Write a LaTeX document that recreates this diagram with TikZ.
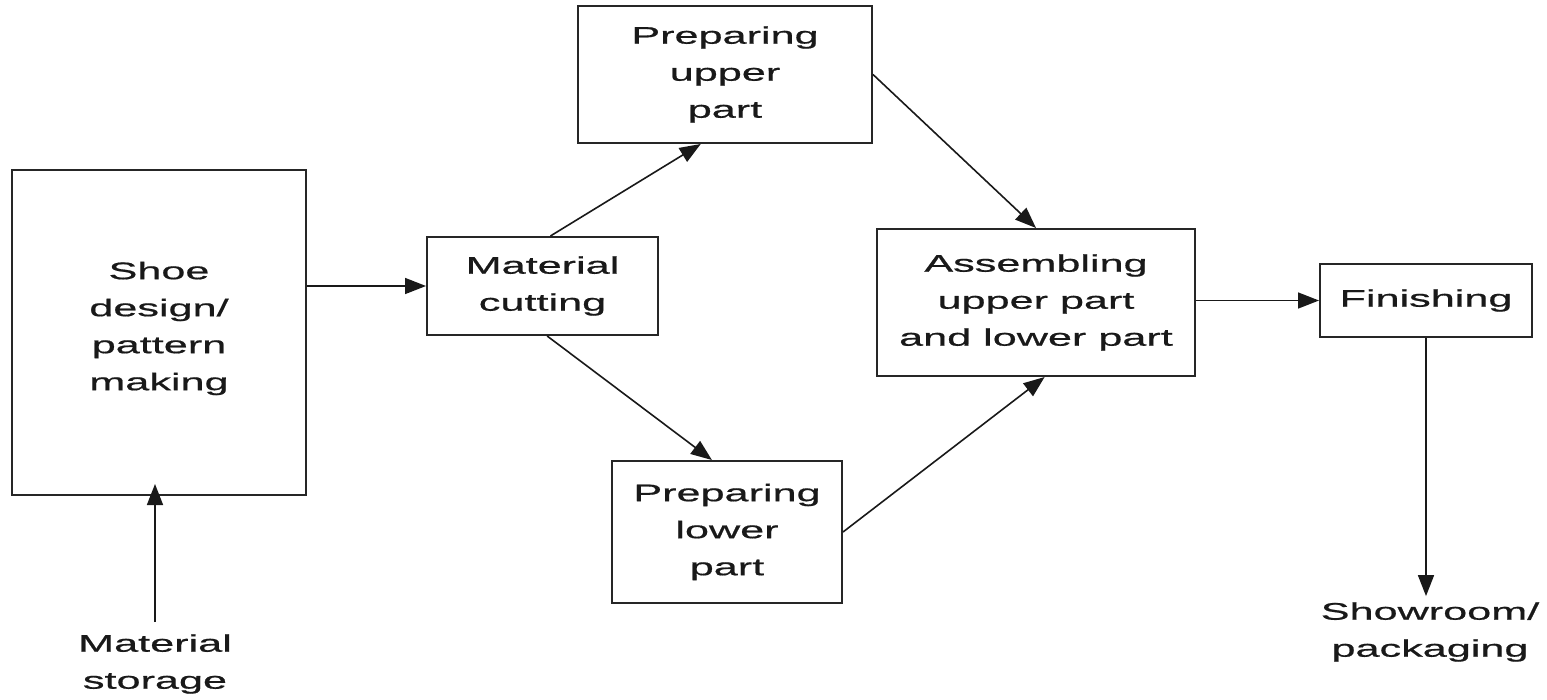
\documentclass[tikz,border=0pt]{standalone}
\usepackage{fontspec}
\setmainfont{Liberation Sans}[FakeStretch=1.8,FakeBold=0.7]
\usetikzlibrary{arrows.meta,calc}
\begin{document}
\begin{tikzpicture}[x=1pt,y=-1pt,
  box/.style={draw=black!85,line width=2pt,rectangle,inner sep=0pt,align=center,
    font=\fontsize{24}{37}\selectfont,text=black!90},
  lbl/.style={inner sep=0pt,align=center,font=\fontsize{24}{37}\selectfont,text=black!90},
  conn/.style={draw=black!90,line width=1.6pt,-{Triangle[length=21pt,width=16pt]}}]
\useasboundingbox (0,0) rectangle (1547,699);
\node[box,minimum width=294pt,minimum height=325pt] (shoe) at (159,332.5) {Shoe\\design/\\pattern\\making\\[-24pt]};
\node[box,minimum width=231pt,minimum height=98pt] (cut) at (542.5,286) {Material\\cutting};
\node[box,minimum width=294pt,minimum height=137pt] (up) at (725,74.5) {Preparing\\upper\\part};
\node[box,minimum width=230pt,minimum height=142pt] (low) at (727,532) {Preparing\\lower\\part};
\node[box,minimum width=318pt,minimum height=147pt] (asm) at (1036,302.5) {Assembling\\upper part\\and lower part};
\node[box,minimum width=212pt,minimum height=73pt] (fin) at (1426,300.5) {Finishing};
\node[lbl] (sto) at (155,664) {Material\\storage};
\node[lbl] (show) at (1430,632) {Showroom/\\packaging};
\draw[conn] (cut.west -| shoe.east) -- (cut.west);
\draw[conn] ([yshift=12pt]sto.north) -- ([yshift=12pt]sto.north |- shoe.south);
\draw[conn] ($(cut.north west)!0.534!(cut.north east)$) -- ($(up.south west)!0.418!(up.south east)$);
\draw[conn] ($(cut.south west)!0.52!(cut.south east)$) -- ($(low.north west)!0.435!(low.north east)$);
\draw[conn] (up.east) -- (asm.north);
\draw[conn] (low.east) -- ($(asm.south west)!0.527!(asm.south east)$);
\draw[conn] (fin.west -| asm.east) -- (fin.west);
\draw[conn] (fin.south) -- ([yshift=6pt]show.north -| fin.south);
\end{tikzpicture}
\end{document}
